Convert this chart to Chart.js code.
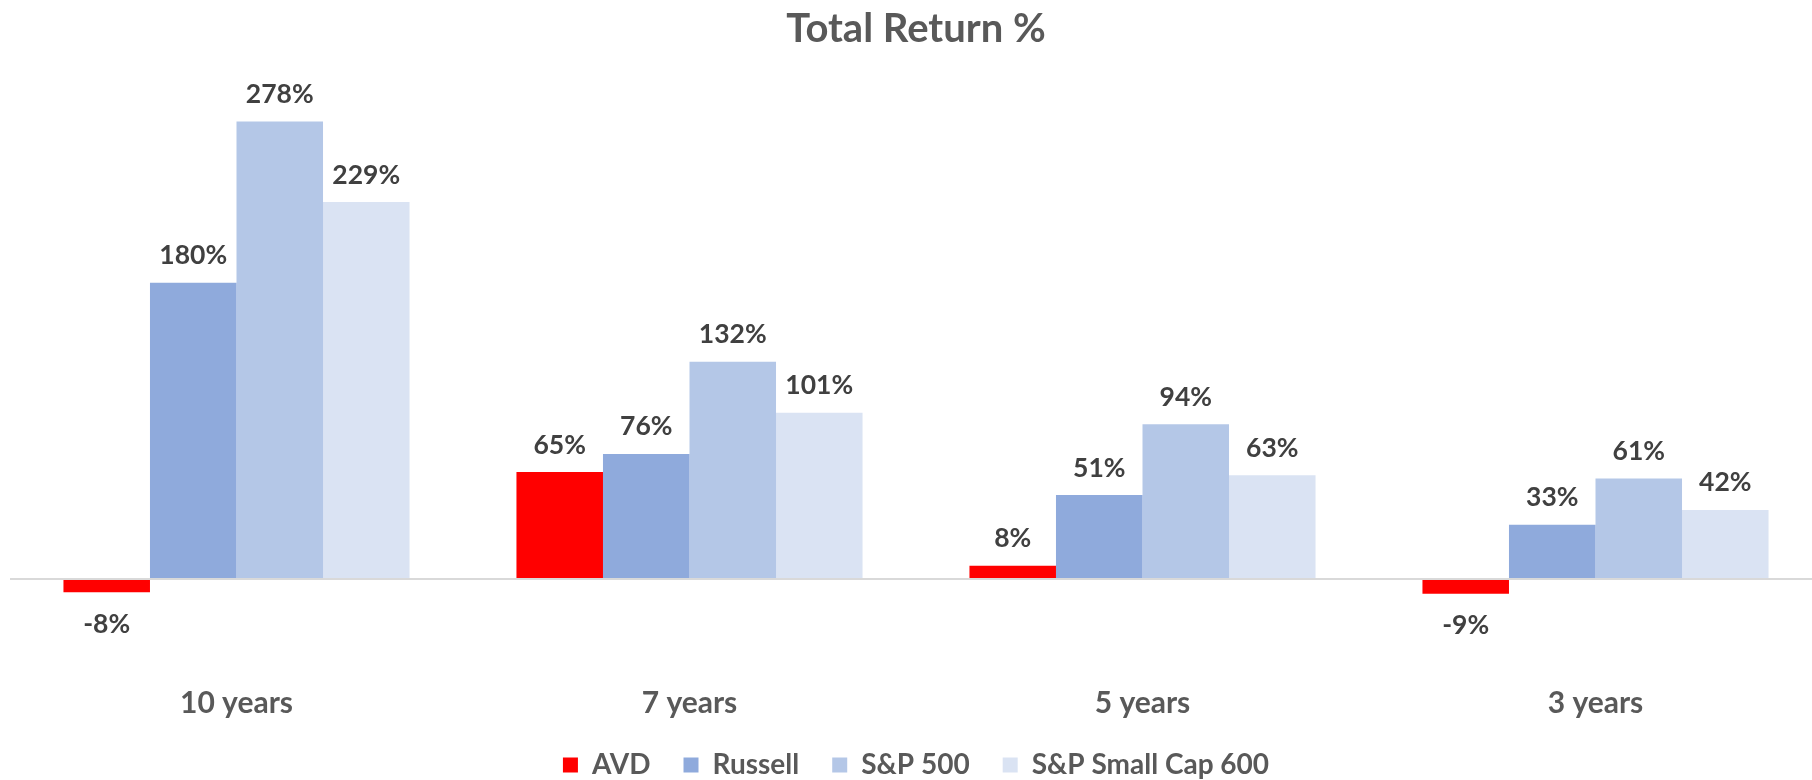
<!DOCTYPE html>
<html lang="en">
<head>
    <meta charset="UTF-8">
    <title>Total Return %</title>
    <script src="https://cdn.jsdelivr.net/npm/chart.js"></script>
    <style>
        body {
            margin: 0;
            overflow: hidden;
            background: #fff;
        }
        .wrap {
            width: 1822px;
            height: 789px;
        }
    </style>
</head>
<body>
    <div class="wrap">
        <canvas id="returns" width="1822" height="789"></canvas>
    </div>

    <script>
        // Values
        const periods = ['10 years', '7 years', '5 years', '3 years'];
        const avd = [-8, 65, 8, -9];
        const russell = [180, 76, 51, 33];
        const sp500 = [278, 132, 94, 61];
        const spSmall600 = [229, 101, 63, 42];

        const fontFamily = 'Lato, "Open Sans", sans-serif';

        // value labels above / below each bar
        const barLabels = {
            id: 'barLabels',
            afterDatasetsDraw(chart) {
                const ctx = chart.ctx;
                ctx.save();
                ctx.font = 'bold 26.5px ' + fontFamily;
                ctx.fillStyle = '#404040';
                ctx.textAlign = 'center';
                ctx.textBaseline = 'middle';
                chart.data.datasets.forEach((ds, i) => {
                    chart.getDatasetMeta(i).data.forEach((bar, j) => {
                        const v = ds.data[j];
                        const y = v >= 0 ? bar.y - 27 : bar.y + 32;
                        ctx.fillText(v + '%', bar.x, y);
                    });
                });
                ctx.restore();
            }
        };

        var ctx = document.getElementById('returns').getContext('2d');
        var returnsChart = new Chart(ctx, {
            type: 'bar',
            data: {
                labels: periods,
                datasets: [
                    { label: 'AVD', data: avd, backgroundColor: '#FF0000' },
                    { label: 'Russell', data: russell, backgroundColor: '#8FAADC' },
                    { label: 'S&P 500', data: sp500, backgroundColor: '#B4C7E7' },
                    { label: 'S&P Small Cap 600', data: spSmall600, backgroundColor: '#DAE3F3' }
                ]
            },
            options: {
                responsive: false,
                animation: false,
                layout: {
                    padding: { left: 10, right: 0, top: 0, bottom: 0 }
                },
                datasets: {
                    bar: {
                        categoryPercentage: 0.764,
                        barPercentage: 1.0
                    }
                },
                plugins: {
                    title: {
                        display: true,
                        text: 'Total Return %',
                        color: '#595959',
                        font: { family: fontFamily, size: 40, weight: 'bold', lineHeight: 1.2 },
                        padding: { top: 5, bottom: 32.2 }
                    },
                    legend: {
                        position: 'bottom',
                        labels: {
                            color: '#595959',
                            font: { family: fontFamily, size: 28, weight: 'bold' },
                            boxWidth: 15,
                            boxHeight: 15,
                            padding: 33
                        }
                    },
                    tooltip: { enabled: false }
                },
                scales: {
                    x: {
                        grid: { display: false, drawTicks: false },
                        border: { display: false },
                        ticks: {
                            color: '#595959',
                            padding: 0,
                            font: { family: fontFamily, size: 30, weight: 'bold', lineHeight: 1 }
                        }
                    },
                    y: {
                        min: -66.2,
                        max: 300,
                        border: { display: false },
                        ticks: { display: false, stepSize: 20 },
                        grid: {
                            drawTicks: false,
                            lineWidth: 2,
                            color: c => c.tick.value === 0 ? '#D9D9D9' : 'rgba(0,0,0,0)'
                        }
                    }
                }
            },
            plugins: [barLabels]
        });
    </script>
</body>
</html>
